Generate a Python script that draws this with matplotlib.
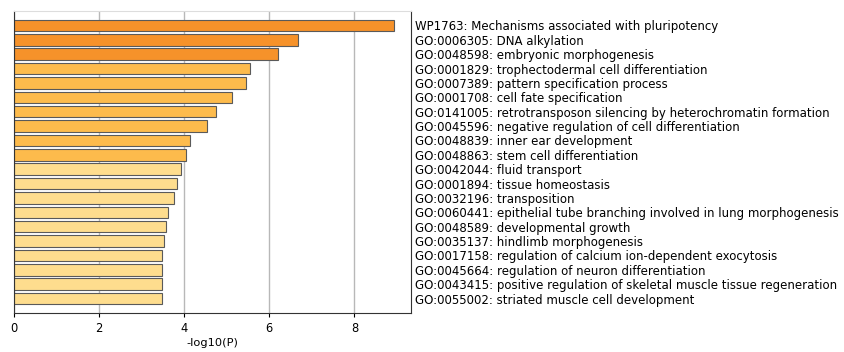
import matplotlib
matplotlib.use("Agg")
import matplotlib.pyplot as plt
import numpy as np

terms = [
    "WP1763: Mechanisms associated with pluripotency",
    "GO:0006305: DNA alkylation",
    "GO:0048598: embryonic morphogenesis",
    "GO:0001829: trophectodermal cell differentiation",
    "GO:0007389: pattern specification process",
    "GO:0001708: cell fate specification",
    "GO:0141005: retrotransposon silencing by heterochromatin formation",
    "GO:0045596: negative regulation of cell differentiation",
    "GO:0048839: inner ear development",
    "GO:0048863: stem cell differentiation",
    "GO:0042044: fluid transport",
    "GO:0001894: tissue homeostasis",
    "GO:0032196: transposition",
    "GO:0060441: epithelial tube branching involved in lung morphogenesis",
    "GO:0048589: developmental growth",
    "GO:0035137: hindlimb morphogenesis",
    "GO:0017158: regulation of calcium ion-dependent exocytosis",
    "GO:0045664: regulation of neuron differentiation",
    "GO:0043415: positive regulation of skeletal muscle tissue regeneration",
    "GO:0055002: striated muscle cell development",
]
neg_log_p = [8.92, 6.67, 6.21, 5.54, 5.46, 5.12, 4.74, 4.53, 4.13, 4.04,
             3.92, 3.83, 3.76, 3.62, 3.57, 3.52, 3.47, 3.47, 3.47, 3.47]
# colour bin per term (0 = strongest)
bins = [0, 0, 0, 1, 1, 1, 1, 1, 1, 1, 2, 2, 2, 2, 2, 2, 2, 2, 2, 2]
BIN_COLOR = ['#f6922a', '#fdbb4c', '#fedd8e']

fig = plt.figure(figsize=(8.45, 3.52), dpi=100)
ax = fig.add_axes([14 / 845, 1 - 313 / 352, (411 - 14) / 845, (313 - 11) / 352])

y = np.arange(len(terms))
ax.barh(y, neg_log_p, height=0.8, color=[BIN_COLOR[b] for b in bins],
        edgecolor='#5a5a5a', linewidth=0.8, zorder=2)

ax.set_ylim(len(terms), -1)
ax.set_xlim(0, 9.33)
ax.set_xticks([0, 2, 4, 6, 8])
ax.set_yticks(y)
ax.set_yticklabels(terms, fontsize=8.5)
ax.yaxis.tick_right()
ax.tick_params(axis='y', length=0, pad=3)
ax.tick_params(axis='x', labelsize=8.3, length=3, pad=3.5)
ax.set_xlabel('-log10(P)', fontsize=8.2, labelpad=2)
ax.grid(axis='x', color='#b8b8b8', linewidth=1, zorder=0)
ax.set_axisbelow(True)
ax.spines['top'].set_color('#dddddd')
for s in ('left', 'right', 'bottom'):
    ax.spines[s].set_color('#333333')

fig.savefig('out.png', dpi=100)
